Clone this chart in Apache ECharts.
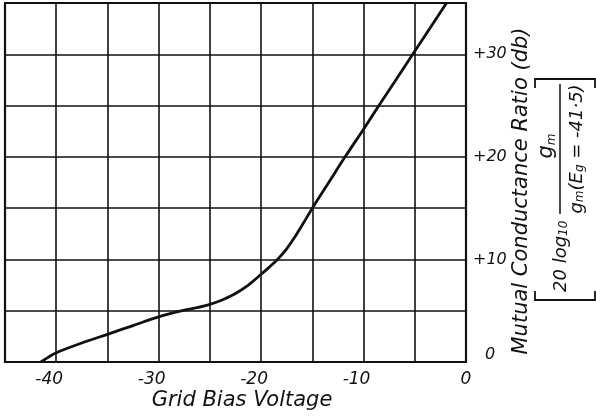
<!DOCTYPE html>
<html>
<head>
<meta charset="utf-8">
<script src="https://cdn.jsdelivr.net/npm/echarts@6/dist/echarts.min.js"></script>
<style>
  html, body { margin: 0; padding: 0; background: #fff; }
  #chart { width: 596px; height: 416px; }
</style>
</head>
<body>
<div id="chart"></div>
<script>
// Grid bias voltage (V) and mutual conductance ratio (db) along the curve
const gridBias = [-41.5, -40.8, -40, -37.5, -35, -32.5, -30, -27.5, -26.25, -25, -23.75, -22.5, -21.25, -20, -19.2, -18.4, -17.6, -16.8, -15.9, -15, -13.4, -11.8, -10, -8.5, -5.2, -1.9];
const ratioDb  = [0, 0.45, 0.9, 1.85, 2.7, 3.55, 4.4, 5.05, 5.3, 5.62, 6.07, 6.68, 7.5, 8.55, 9.25, 10, 10.9, 12.05, 13.5, 15, 17.5, 20, 22.7, 25, 30, 35];

// Values that carry a printed tick label
const biasLabels  = [-40, -30, -20, -10, 0];
const ratioLabels = [0, 10, 20, 30];

const ink = '#111';
const face = '"DejaVu Sans", sans-serif';

const chart = echarts.init(document.getElementById('chart'), null, { renderer: 'canvas' });

const subStyle = { fontFamily: face, fontStyle: 'italic', fontSize: 12, fill: ink, color: ink, verticalAlign: 'bottom' };
const mainRich = { fontFamily: face, fontStyle: 'italic', fontSize: 18 };
const bigRich  = { fontFamily: face, fontStyle: 'italic', fontSize: 21 };

chart.setOption({
  animation: false,
  backgroundColor: '#fff',
  grid: {
    left: 5, right: 130, top: 3, bottom: 54,
    show: true, borderColor: ink, borderWidth: 2.2, backgroundColor: 'transparent'
  },
  xAxis: {
    type: 'value', min: -45, max: 0, interval: 5,
    axisLine: { show: false },
    axisTick: { show: false },
    splitLine: { show: true, lineStyle: { color: ink, width: 1.6 } },
    axisLabel: {
      margin: 9, color: ink, fontFamily: face, fontStyle: 'italic', fontSize: 17,
      showMinLabel: true, showMaxLabel: true,
      formatter: v => biasLabels.includes(v) ? (v < 0 ? '{n|' + v + '}' : String(v)) : '',
      rich: { n: { color: ink, fontFamily: face, fontStyle: 'italic', fontSize: 17, padding: [0, 14, 0, 0] } }
    }
  },
  yAxis: {
    type: 'value', position: 'right', min: 0, max: 35, interval: 5,
    axisLine: { show: false },
    axisTick: { show: false },
    splitLine: { show: true, lineStyle: { color: ink, width: 1.6 } },
    axisLabel: {
      margin: 7, color: ink, fontFamily: face, fontStyle: 'italic', fontSize: 16,
      showMinLabel: true, showMaxLabel: true,
      formatter: v => ratioLabels.includes(v) ? (v === 0 ? '{z|0}' : '+' + v) : '',
      rich: { z: { color: ink, fontFamily: face, fontStyle: 'italic', fontSize: 16, padding: [0, 0, 14, 12] } }
    }
  },
  series: [{
    type: 'line',
    data: gridBias.map((x, i) => [x, ratioDb[i]]),
    showSymbol: false,
    smooth: 0.35,
    lineStyle: { color: ink, width: 2.8 },
    z: 5
  }],
  graphic: [
    {
      type: 'text', x: 242, y: 401,
      style: { text: 'Grid Bias Voltage', fontFamily: face, fontStyle: 'italic', fontSize: 21, fill: ink, align: 'center', verticalAlign: 'middle' }
    },
    {
      type: 'text', x: 522, y: 191, rotation: Math.PI / 2,
      style: { text: 'Mutual Conductance Ratio (db)', fontFamily: face, fontStyle: 'italic', fontSize: 21, fill: ink, align: 'center', verticalAlign: 'middle' }
    },
    {
      // bracketed expression, written bottom-to-top
      type: 'group', x: 535, y: 300, rotation: Math.PI / 2,
      children: [
        { type: 'polyline', shape: { points: [[9, 0], [0, 0], [0, 60], [9, 60]] }, style: { stroke: ink, lineWidth: 1.8, fill: null } },
        { type: 'polyline', shape: { points: [[212, 0], [221, 0], [221, 60], [212, 60]] }, style: { stroke: ink, lineWidth: 1.8, fill: null } },
        {
          type: 'text', x: 8, y: 26,
          style: { text: '{t|20 log}{s|10}', fill: ink, align: 'left', verticalAlign: 'middle',
                   rich: { t: mainRich, s: subStyle } }
        },
        { type: 'line', shape: { x1: 86, y1: 25, x2: 216, y2: 25 }, style: { stroke: ink, lineWidth: 1.5 } },
        {
          type: 'text', x: 154, y: 12,
          style: { text: '{t|g}{s|m}', fill: ink, align: 'center', verticalAlign: 'middle',
                   rich: { t: bigRich, s: subStyle } }
        },
        {
          type: 'text', x: 151, y: 42,
          style: { text: '{t|g}{s|m}{t|(E}{s|g}{t| = -41·5)}', fill: ink, align: 'center', verticalAlign: 'middle',
                   rich: { t: mainRich, s: subStyle } }
        }
      ]
    }
  ]
});
</script>
</body>
</html>
